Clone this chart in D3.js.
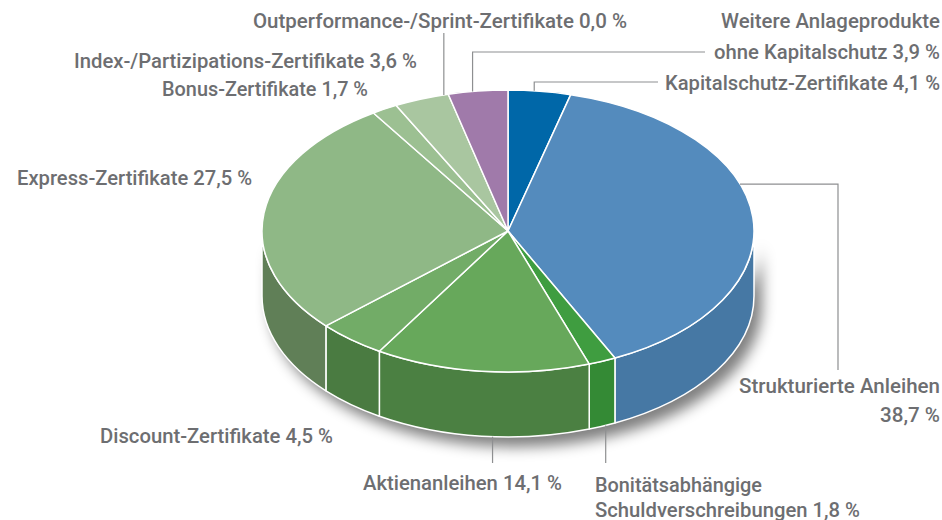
<!DOCTYPE html>
<html>
<head>
<meta charset="utf-8">
<script src="https://cdn.jsdelivr.net/npm/d3@7"></script>
<style>
  html, body { margin: 0; padding: 0; background: #fff; }
  svg { display: block; }
</style>
</head>
<body>
<svg id="chart" width="942" height="520"></svg>
<script>
// ---- Daten (Anteile in %), Reihenfolge im Uhrzeigersinn ab 12 Uhr
const categories = [
  'Kapitalschutz-Zertifikate',
  'Strukturierte Anleihen',
  'Bonitätsabhängige Schuldverschreibungen',
  'Aktienanleihen',
  'Discount-Zertifikate',
  'Express-Zertifikate',
  'Bonus-Zertifikate',
  'Index-/Partizipations-Zertifikate',
  'Outperformance-/Sprint-Zertifikate',
  'Weitere Anlageprodukte ohne Kapitalschutz'
];
const shares = [4.1, 38.7, 1.8, 14.1, 4.5, 27.5, 1.7, 3.6, 0.0, 3.9];

const topColors  = ['#0067a8', '#548bbd', '#3f9d40', '#67a85b', '#72ac67', '#8fb886', '#9cc092', '#a9c6a0', '#8d6c9c', '#a07aaa'];
const sideColors = ['#005288', '#4678a4', '#348a35', '#4b8042', '#4a7b41', '#607f57', '#6f8f68', '#7f9a78', '#6f5580', '#7e5f88'];

// Beschriftungen: Zeilen, Position, Breite (Layout)
const labels = [
  { i: 0, lines: ['Kapitalschutz-Zertifikate 4,1 %'], anchor: 'end', x: 940, y: [90], w: [275] },
  { i: 1, lines: ['Strukturierte Anleihen', '38,7 %'], anchor: 'end', x: 940, y: [393, 422], w: [201, 60] },
  { i: 2, lines: ['Bonitätsabhängige', 'Schuldverschreibungen 1,8 %'], anchor: 'start', x: 595, y: [492, 517], w: [167, 265] },
  { i: 3, lines: ['Aktienanleihen 14,1 %'], anchor: 'start', x: 363, y: [490], w: [199] },
  { i: 4, lines: ['Discount-Zertifikate 4,5 %'], anchor: 'start', x: 100, y: [443], w: [233] },
  { i: 5, lines: ['Express-Zertifikate 27,5 %'], anchor: 'start', x: 17, y: [185], w: [235] },
  { i: 6, lines: ['Bonus-Zertifikate 1,7 %'], anchor: 'start', x: 162, y: [96], w: [206] },
  { i: 7, lines: ['Index-/Partizipations-Zertifikate 3,6 %'], anchor: 'start', x: 74, y: [68], w: [343] },
  { i: 8, lines: ['Outperformance-/Sprint-Zertifikate 0,0 %'], anchor: 'start', x: 253, y: [28], w: [374] },
  { i: 9, lines: ['Weitere Anlageprodukte', 'ohne Kapitalschutz 3,9 %'], anchor: 'end', x: 940, y: [28, 59], w: [219, 226] }
];

// Führungslinien: Ansatzpunkt am Rand (in % des Umfangs), danach Knickpunkte
const leaders = [
  { at: 95.8, edge: 'top', pts: [['a', 33]] },
  { at: 97.7, edge: 'top', pts: [['a', 52], [705, 52]] },
  { at: 1.7, edge: 'top', pts: [['a', 82], [658, 82]] },
  { at: 19.6, edge: 'top', pts: [[838, 'a'], [838, 370]] },
  { at: 43.5, edge: 'bottom', pts: [['a', 463]] },
  { at: 51.0, edge: 'bottom', pts: [['a', 463]] }
];

const svg = d3.select('#chart');
const cx = 508, cy = 231, rx = 246, ry = 141, depth = 65;

const px = a => cx + rx * Math.sin(a);
const py = a => cy - ry * Math.cos(a);

const pie = d3.pie().sort(null).value(d => d).startAngle(0).endAngle(2 * Math.PI);
const arcs = pie(shares);

// ---- Schatten
const defs = svg.append('defs');
defs.append('filter')
  .attr('id', 'blur')
  .attr('x', '-20%').attr('y', '-20%').attr('width', '140%').attr('height', '140%')
  .append('feGaussianBlur')
  .attr('stdDeviation', 7);

const silhouette = `M${cx + rx},${cy} L${cx + rx},${cy + depth} A${rx},${ry} 0 0 1 ${cx - rx},${cy + depth}` +
  ` L${cx - rx},${cy} A${rx},${ry} 0 0 0 ${cx + rx},${cy} Z`;

svg.append('path')
  .attr('d', silhouette)
  .attr('transform', 'translate(8,10)')
  .attr('fill', '#000')
  .attr('opacity', 0.5)
  .attr('filter', 'url(#blur)');

// ---- Seitenflächen (nur vorderer Halbkreis sichtbar)
const sidePath = (a0, a1) => {
  const large = (a1 - a0) > Math.PI ? 1 : 0;
  return `M${px(a0)},${py(a0)} A${rx},${ry} 0 ${large} 1 ${px(a1)},${py(a1)}` +
    ` L${px(a1)},${py(a1) + depth} A${rx},${ry} 0 ${large} 0 ${px(a0)},${py(a0) + depth} Z`;
};

const g = svg.append('g');

arcs.forEach((d, i) => {
  const s0 = Math.max(d.startAngle, Math.PI / 2);
  const s1 = Math.min(d.endAngle, 3 * Math.PI / 2);
  if (s1 - s0 < 1e-6) return;
  g.append('path')
    .attr('class', 'seite')
    .attr('d', sidePath(s0, s1))
    .attr('fill', sideColors[i])
    .attr('stroke', '#fff')
    .attr('stroke-width', 1.5)
    .attr('stroke-linejoin', 'round');
});

// ---- Deckfläche
const topPath = (a0, a1) => {
  const large = (a1 - a0) > Math.PI ? 1 : 0;
  return `M${cx},${cy} L${px(a0)},${py(a0)} A${rx},${ry} 0 ${large} 1 ${px(a1)},${py(a1)} Z`;
};

arcs.forEach((d, i) => {
  if (d.endAngle - d.startAngle < 1e-6) return;
  g.append('path')
    .attr('class', 'segment')
    .attr('d', topPath(d.startAngle, d.endAngle))
    .attr('fill', topColors[i])
    .attr('stroke', '#fff')
    .attr('stroke-width', 1.5)
    .attr('stroke-linejoin', 'round');
});

// ---- Führungslinien
leaders.forEach(l => {
  const a = l.at / 100 * 2 * Math.PI;
  const ax = px(a);
  const ay = py(a) + (l.edge === 'bottom' ? depth : 0);
  const pts = [[ax, ay]].concat(l.pts.map(p => [p[0] === 'a' ? ax : p[0], p[1] === 'a' ? ay : p[1]]));
  svg.append('path')
    .attr('d', d3.line()(pts))
    .attr('fill', 'none')
    .attr('stroke', '#8e8f91')
    .attr('stroke-width', 1.2);
});

// ---- Texte
labels.forEach(lb => {
  lb.lines.forEach((t, k) => {
    svg.append('text')
      .attr('x', lb.x)
      .attr('y', lb.y[k])
      .attr('text-anchor', lb.anchor)
      .attr('textLength', lb.w[k])
      .attr('lengthAdjust', 'spacingAndGlyphs')
      .style('font-family', 'Roboto, "Liberation Sans", sans-serif')
      .style('font-size', '20px')
      .style('font-weight', 500)
      .style('fill', '#6d6e71')
      .text(t);
  });
});
</script>
</body>
</html>
